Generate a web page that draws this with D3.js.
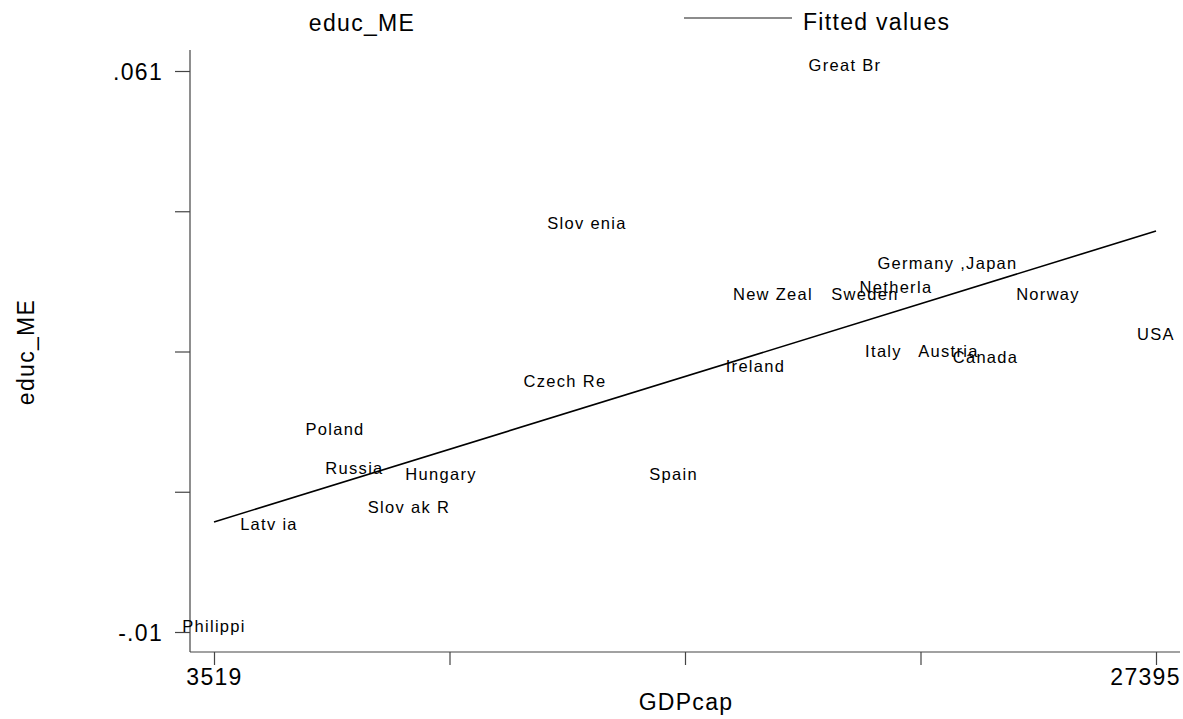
<!DOCTYPE html>
<html><head><meta charset="utf-8">
<script src="https://cdn.jsdelivr.net/npm/d3@7"></script>
<style>body{margin:0;background:#fff}svg{display:block;font-family:"Liberation Sans",Arial,sans-serif}</style>
</head><body><svg id="c" width="1183" height="719"></svg>
<script>
const countries = ["Great Br","Slov enia","Germany ,Japan","Netherla","New Zeal","Sweden","Norway","USA","Italy","Austria","Canada","Ireland","Czech Re","Poland","Russia","Hungary","Slov ak R","Latv ia","Spain","Philippi"];
const gdpcap = [19512,12973,22110,20805,17687,20019,24658,27395,20488,22136,23074,17244,12416,6586,7080,9273,8461,4913,15166,3519];
const educME = [0.061,0.0410,0.0359,0.0329,0.0320,0.0320,0.0320,0.0270,0.0248,0.0248,0.0240,0.0229,0.0210,0.0149,0.0100,0.0093,0.0051,0.0029,0.0093,-0.01];
const fittedX = [3519,27395];
const fittedY = [0.00392,0.04075];
const xTickVals = [3519,9488,15457,21426,27395];
const xTickLabels = ["3519","","","","27395"];
const yTickVals = [-0.01,0.00775,0.0255,0.04325,0.061];
const yTickLabels = ["-.01","","","",".061"];

const svg = d3.select("#c");
const x = d3.scaleLinear().domain([3519,27395]).range([214,1156]);
const y = d3.scaleLinear().domain([-0.01,0.061]).range([632,71]);
const axisCol = "#444";
const bigFont = 23, bigLS = 1.3;

// axes lines
svg.append("line").attr("x1",190).attr("x2",190).attr("y1",50).attr("y2",652).attr("stroke",axisCol).attr("stroke-width",1.2);
svg.append("line").attr("x1",190).attr("x2",1180).attr("y1",652).attr("y2",652).attr("stroke",axisCol).attr("stroke-width",1.2);

const xa = svg.append("g").attr("transform","translate(0,652)")
  .call(d3.axisBottom(x).tickValues(xTickVals).tickFormat((d,i)=>xTickLabels[i]).tickSize(13).tickPadding(4));
xa.select(".domain").remove();
xa.selectAll("line").attr("stroke",axisCol).attr("stroke-width",1.2);
xa.selectAll("text").attr("font-size",bigFont).attr("letter-spacing",bigLS).attr("fill","#000").attr("font-family","Liberation Sans, Arial, sans-serif");
// last label kept inside the frame, as in the reference
xa.selectAll(".tick").filter((d,i)=>i===xTickVals.length-1).select("text")
  .attr("text-anchor","end").attr("x",1180-1156+bigLS-1);

const ya = svg.append("g").attr("transform","translate(190,0)")
  .call(d3.axisLeft(y).tickValues(yTickVals).tickFormat((d,i)=>yTickLabels[i]).tickSize(15).tickPadding(12));
ya.select(".domain").remove();
ya.selectAll("line").attr("stroke",axisCol).attr("stroke-width",1.2);
ya.selectAll("text").attr("font-size",bigFont).attr("letter-spacing",bigLS).attr("fill","#000").attr("font-family","Liberation Sans, Arial, sans-serif").attr("dy","0.36em");

// fitted line
const line = d3.line().x(d=>x(d[0])).y(d=>y(d[1]));
svg.append("path").datum(fittedX.map((v,i)=>[v,fittedY[i]])).attr("d",line)
  .attr("fill","none").attr("stroke","#000").attr("stroke-width",1.6);

// marker labels
svg.append("g").selectAll("text").data(countries).join("text")
  .attr("x",(d,i)=>x(gdpcap[i])).attr("y",(d,i)=>y(educME[i]))
  .attr("text-anchor","middle").attr("font-size",16.5).attr("letter-spacing",1.3).attr("fill","#000").text(d=>d);

// legend
svg.append("text").attr("x",362).attr("y",31).attr("text-anchor","middle").attr("font-size",bigFont).attr("letter-spacing",bigLS).text("educ_ME");
svg.append("line").attr("x1",684).attr("x2",792).attr("y1",18).attr("y2",18).attr("stroke","#666").attr("stroke-width",1.4);
svg.append("text").attr("x",803).attr("y",30).attr("font-size",bigFont).attr("letter-spacing",bigLS).text("Fitted values");

// axis titles
svg.append("text").attr("x",686).attr("y",710).attr("text-anchor","middle").attr("font-size",bigFont).attr("letter-spacing",bigLS).text("GDPcap");
svg.append("text").attr("transform","translate(34,352) rotate(-90)").attr("text-anchor","middle").attr("font-size",bigFont).attr("letter-spacing",bigLS).text("educ_ME");
</script></body></html>
